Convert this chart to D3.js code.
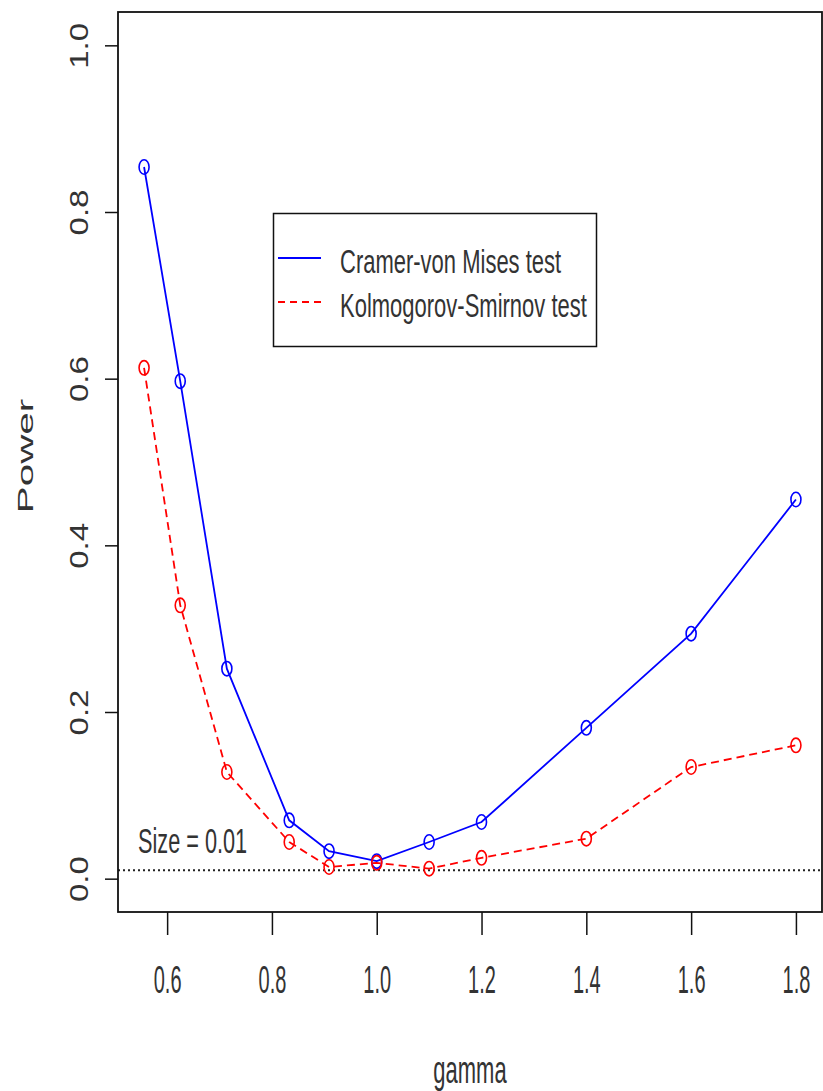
<!DOCTYPE html>
<html>
<head>
<meta charset="utf-8">
<script src="https://cdn.jsdelivr.net/npm/d3@7"></script>
<style>
body { margin: 0; background: #fff; }
svg { display: block; font-family: "Liberation Sans", Arial, sans-serif; }
text { fill: #333; }
</style>
</head>
<body>
<div id="chart"></div>
<script>
// data --------------------------------------------------------------
var gamma    = [0.556, 0.625, 0.714, 0.833, 0.909, 1.0, 1.1, 1.2, 1.4, 1.6, 1.8];
var cvmPower = [0.854, 0.597, 0.252, 0.070, 0.033, 0.021, 0.044, 0.068, 0.181, 0.294, 0.455];
var ksPower  = [0.613, 0.328, 0.128, 0.044, 0.014, 0.019, 0.012, 0.025, 0.048, 0.134, 0.160];
var xTicks = [0.6, 0.8, 1.0, 1.2, 1.4, 1.6, 1.8];
var yTicks = [0.0, 0.2, 0.4, 0.6, 0.8, 1.0];
var seriesNames = ["Cramer-von Mises test", "Kolmogorov-Smirnov test"];
var sizeLevel = 0.01;

// R-ish plot region (the image is stretched vertically) ---------------
var W = 823, H = 1091;
var plot = {left: 118, right: 822, top: 12, bottom: 912};

function pad(ext, f) { var d = (ext[1] - ext[0]) * f; return [ext[0] - d, ext[1] + d]; }

var x = d3.scaleLinear().domain(pad(d3.extent(gamma), 0.04)).range([plot.left, plot.right]);
var y = d3.scaleLinear().domain(pad([0, 1], 0.04)).range([plot.bottom, plot.top]);

var svg = d3.select("#chart").append("svg")
  .attr("width", W).attr("height", H);

svg.append("rect").attr("width", W).attr("height", H).attr("fill", "#fff");

// axes
var fmt = d3.format(".1f");

var gx = svg.append("g")
  .attr("transform", "translate(0," + plot.bottom + ")")
  .call(d3.axisBottom(x).tickValues(xTicks).tickSize(23).tickFormat(fmt));
gx.select(".domain").remove();
gx.selectAll("line").attr("stroke", "#111").attr("stroke-width", 1.5);
gx.selectAll("text")
  .attr("y", null).attr("dy", null)
  .attr("font-size", 20)
  .attr("fill", "#333")
  .attr("transform", "translate(0,81) scale(1,1.9)");

var gy = svg.append("g")
  .attr("transform", "translate(" + plot.left + ",0)")
  .call(d3.axisLeft(y).tickValues(yTicks).tickSize(13).tickFormat(fmt));
gy.select(".domain").remove();
gy.selectAll("line").attr("stroke", "#111").attr("stroke-width", 1.5);
gy.selectAll("text")
  .attr("x", null).attr("dy", null)
  .attr("font-size", 26)
  .attr("fill", "#333")
  .attr("text-anchor", "middle")
  .attr("transform", "translate(-30,0) rotate(-90) scale(1.27,1)");

// axis titles
svg.append("text")
  .attr("font-size", 22)
  .attr("text-anchor", "middle")
  .attr("transform", "translate(" + ((plot.left + plot.right) / 2) + ",1083) scale(1,1.75)")
  .text("gamma");

svg.append("text")
  .attr("font-size", 22)
  .attr("text-anchor", "middle")
  .attr("transform", "translate(33," + ((plot.top + plot.bottom) / 2 - 6) + ") rotate(-90) scale(1.84,1)")
  .text("Power");

// size reference line
svg.append("line")
  .attr("x1", plot.left).attr("x2", plot.right)
  .attr("y1", y(sizeLevel)).attr("y2", y(sizeLevel))
  .attr("stroke", "#222").attr("stroke-width", 2)
  .attr("stroke-dasharray", "2,3");

svg.append("text")
  .attr("font-size", 21.7)
  .attr("transform", "translate(138,853) scale(1,1.65)")
  .text("Size = " + sizeLevel);

// series
var series = [
  {name: seriesNames[0], values: cvmPower, color: "#0000ff", dash: null},
  {name: seriesNames[1], values: ksPower,  color: "#ff0000", dash: "8,5"}
];

var line = d3.line().x(function(d) { return x(d[0]); }).y(function(d) { return y(d[1]); });

series.forEach(function(s) {
  var pts = d3.zip(gamma, s.values);
  svg.append("path")
    .datum(pts)
    .attr("d", line)
    .attr("fill", "none")
    .attr("stroke", s.color)
    .attr("stroke-width", 1.8)
    .attr("stroke-dasharray", s.dash);
  svg.selectAll(null).data(pts).enter().append("ellipse")
    .attr("cx", function(d) { return x(d[0]); })
    .attr("cy", function(d) { return y(d[1]); })
    .attr("rx", 5).attr("ry", 7.2)
    .attr("fill", "none")
    .attr("stroke", s.color)
    .attr("stroke-width", 1.6);
});

// legend
var leg = svg.append("g");
leg.append("rect")
  .attr("x", 273.5).attr("y", 213.5).attr("width", 323).attr("height", 133)
  .attr("fill", "#fff").attr("stroke", "#111").attr("stroke-width", 1.5);
series.forEach(function(s, i) {
  var ly = 258 + i * 44;
  leg.append("line")
    .attr("x1", 278).attr("x2", 321).attr("y1", ly).attr("y2", ly)
    .attr("stroke", s.color).attr("stroke-width", 1.8)
    .attr("stroke-dasharray", s.dash ? "7,5" : null);
  leg.append("text")
    .attr("font-size", 22)
    .attr("transform", "translate(340," + (ly + 15) + ") scale(1,1.5)")
    .text(s.name);
});

// box
svg.append("rect")
  .attr("x", plot.left).attr("y", plot.top)
  .attr("width", plot.right - plot.left).attr("height", plot.bottom - plot.top)
  .attr("fill", "none").attr("stroke", "#111").attr("stroke-width", 1.8);
</script>
</body>
</html>
